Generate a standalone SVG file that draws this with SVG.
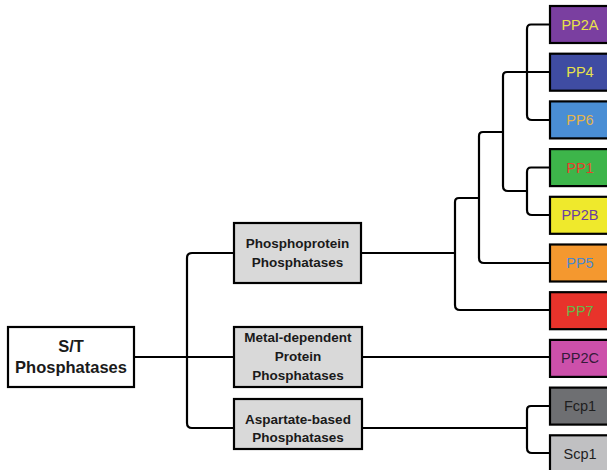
<svg xmlns="http://www.w3.org/2000/svg" width="607" height="470" viewBox="0 0 607 470">
<style>
.c{fill:none;stroke:#000;stroke-width:2.2}
.b{stroke:#000;stroke-width:2.2}
.m{fill:#d9d9d9;stroke:#000;stroke-width:2.2}
.t{font-family:"Liberation Sans",Arial,sans-serif;text-anchor:middle}
.bt{font-family:"Liberation Sans",Arial,sans-serif;font-weight:bold;font-size:13.5px;text-anchor:middle;fill:#1a1a1a}
.lt{font-family:"Liberation Sans",Arial,sans-serif;font-size:14.5px;text-anchor:middle}
</style>
<rect width="607" height="470" fill="#fff"/>
<g id="connectors">
<path class="c" d="M134,357 H234"/>
<path class="c" d="M234,253 H192 Q187,253 187,258 V423 Q187,428 192,428 H234"/>
<path class="c" d="M361,253 H455"/>
<path class="c" d="M479,198 H459 Q455,198 455,202 V305 Q455,310 460,310 H550"/>
<path class="c" d="M503,132 H483 Q479,132 479,136 V258 Q479,263 484,263 H550"/>
<path class="c" d="M550,72 H507 Q503,72 503,76 V186 Q503,191 508,191 H527"/>
<path class="c" d="M550,24.5 H531 Q527,24.5 527,29 V115 Q527,120 532,120 H550"/>
<path class="c" d="M550,167.5 H531 Q527,167.5 527,172 V210 Q527,215 532,215 H550"/>
<path class="c" d="M362,357 H550"/>
<path class="c" d="M362,428 H527"/>
<path class="c" d="M550,406 H531 Q527,406 527,410 V448 Q527,453 532,453 H550"/>
</g>
<g id="st">
<rect x="8" y="327" width="126" height="60" fill="#fff" class="b"/>
<text class="t" x="71" y="352" font-size="16.5" font-weight="bold" fill="#1a1a1a">S/T</text>
<text class="t" x="71" y="373" font-size="16.5" font-weight="bold" fill="#1a1a1a">Phosphatases</text>
</g>
<g id="ppp">
<rect x="234" y="223" width="127" height="60" class="m"/>
<text class="bt" x="297.5" y="248">Phosphoprotein</text>
<text class="bt" x="297.5" y="267">Phosphatases</text>
</g>
<g id="ppm">
<rect x="234" y="327" width="128" height="60" class="m"/>
<text class="bt" x="298" y="342">Metal-dependent</text>
<text class="bt" x="298" y="361">Protein</text>
<text class="bt" x="298" y="380">Phosphatases</text>
</g>
<g id="asp">
<rect x="234" y="399" width="128" height="50" class="m"/>
<text class="bt" x="298" y="424">Aspartate-based</text>
<text class="bt" x="298" y="442">Phosphatases</text>
</g>
<g id="pp2a"><rect x="550" y="6" width="62" height="37" fill="#7a3fa0" class="b"/><text class="lt" x="580" y="29.5" fill="#e8e24a">PP2A</text></g>
<g id="pp4"><rect x="550" y="53.7" width="62" height="37" fill="#3f4ca2" class="b"/><text class="lt" x="580" y="77.2" fill="#e8e24a">PP4</text></g>
<g id="pp6"><rect x="550" y="101.4" width="62" height="37" fill="#4a8ed4" class="b"/><text class="lt" x="580" y="124.9" fill="#e4b44a">PP6</text></g>
<g id="pp1"><rect x="550" y="149.1" width="62" height="37" fill="#3db54a" class="b"/><text class="lt" x="580" y="172.6" fill="#e8402a">PP1</text></g>
<g id="pp2b"><rect x="550" y="196.8" width="62" height="37" fill="#efe92c" class="b"/><text class="lt" x="580" y="220.3" fill="#6a40a0">PP2B</text></g>
<g id="pp5"><rect x="550" y="244.5" width="62" height="37" fill="#f4982f" class="b"/><text class="lt" x="580" y="268" fill="#4a88cc">PP5</text></g>
<g id="pp7"><rect x="550" y="292.2" width="62" height="37" fill="#e8332b" class="b"/><text class="lt" x="580" y="315.7" fill="#66b84a">PP7</text></g>
<g id="pp2c"><rect x="550" y="339.9" width="62" height="37" fill="#cc50aa" class="b"/><text class="lt" x="580" y="363.4" fill="#351a3a">PP2C</text></g>
<g id="fcp1"><rect x="550" y="387.6" width="62" height="37" fill="#6e6f72" class="b"/><text class="lt" x="580" y="411.1" fill="#1e1e1e">Fcp1</text></g>
<g id="scp1"><rect x="550" y="435.3" width="62" height="37" fill="#c0c0c2" class="b"/><text class="lt" x="580" y="458.8" fill="#1e1e1e">Scp1</text></g>
</svg>
